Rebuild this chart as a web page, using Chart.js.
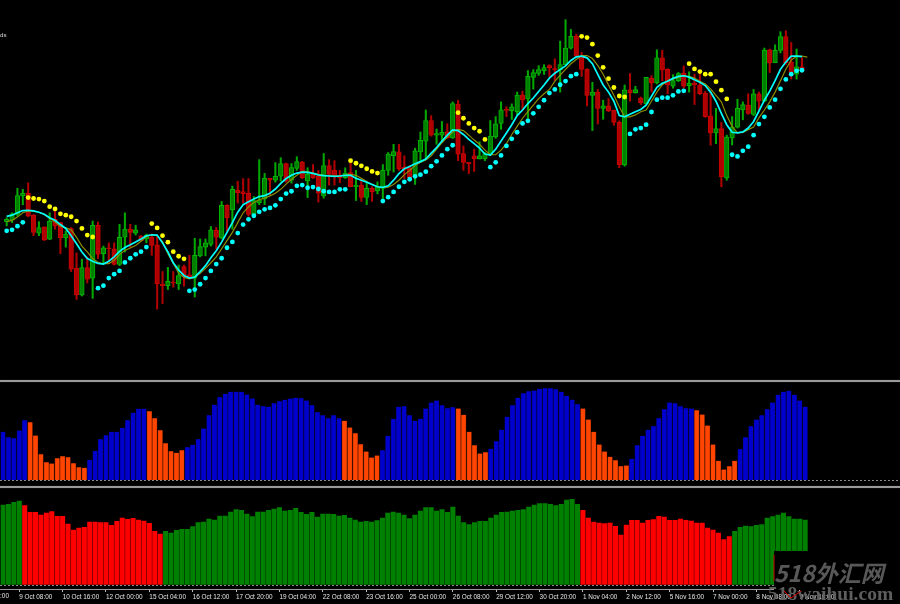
<!DOCTYPE html>
<html>
<head>
<meta charset="utf-8">
<title>Chart</title>
<script src="https://cdn.jsdelivr.net/npm/chart.js@4"></script>
<style>
    html, body { margin: 0; padding: 0; background: #000; overflow: hidden; }
    #wrap { position: relative; width: 900px; height: 604px; background: #000; overflow: hidden; }
    canvas { position: absolute; left: 0; }
    .sep { position: absolute; left: 0; width: 900px; height: 2px; background: #9a9a9a; box-shadow: 0 0 1px #666; }
</style>
</head>
<body>
<div id="wrap">
    <canvas id="mainChart" width="900" height="380" style="top:0"></canvas>
    <div class="sep" style="top:380px"></div>
    <canvas id="histChart" width="900" height="102" style="top:383px"></canvas>
    <div class="sep" style="top:485.5px"></div>
    <canvas id="trendChart" width="900" height="116" style="top:488px"></canvas>
</div>
<script>
// All values. Price units are arbitrary, the original axis is not visible.
const slotCount = 166;

const tickLabels = ['9 Oct 08:00', '10 Oct 16:00', '12 Oct 00:00', '15 Oct 04:00', '16 Oct 12:00',
    '17 Oct 20:00', '19 Oct 04:00', '22 Oct 08:00', '23 Oct 16:00', '25 Oct 00:00', '26 Oct 08:00',
    '29 Oct 12:00', '30 Oct 20:00', '1 Nov 04:00', '2 Nov 12:00', '5 Nov 16:00', '7 Nov 00:00',
    '8 Nov 08:00', '9 Nov 16:00'];

const candleOpen = [157.7,159.3,165,184,186.7,164,146,152.3,139.7,160,
    156.7,141,150.7,110,82.7,110.7,100,154,125,131,
    130,114,141.7,150,146,143.3,140,141.7,134,94,
    92.3,96,94,111.7,103.3,100,122.7,131.7,134.3,149,
    141,174.3,170,190,188.3,186.7,165,177,181,202,
    200,204,217,200,212,218.3,199.3,206.7,204,184,
    215,210,205,202.7,207.7,193.3,195,182.3,191.7,189,
    191.7,210,225,229,213.3,212.7,205,229,240,261,
    246,246,249.3,243.3,277.7,227.3,218.3,225,221.7,221.7,
    226,244.3,258,272.3,271,270,287,283,305,309,
    312,317,314,313,318,335,347.3,326.7,313.3,286.7,
    290,273.3,276,271.7,259,215.7,292.3,289.3,284,278.3,
    304,299.3,325,313.3,296,301.7,309.3,296.7,299,297.3,
    289,265.7,248.3,252.7,202.3,243.3,254.3,271.7,276.7,267.3,
    288.3,280.7,333.3,320,332.7,346.7,320.7,308.3,315.7];

const candleClose = [160,165.7,184.3,186.7,163.3,146.7,151.7,139,158.3,153.3,
    141,145,109,82.7,110.7,99,154,124.3,131,130,
    114,141.7,150,146.7,149.3,138.3,144,133.3,94,92.3,
    96.7,95,102.7,102.7,100,123.3,132.3,136,149.3,141.7,
    174.3,161.7,190.7,187.3,186,165,179.3,180,202,200,
    204,217,199,213,219,202.7,206,202.7,186.7,215,
    206,205,202.7,207.3,193.3,195,182.3,191.7,188.3,193.3,
    210,226.7,229.3,211.7,211,202.7,230,240.7,261,246,
    247.7,249,243.3,278.3,226.7,218.3,216.7,221.7,225,227.3,
    245,257.7,272,271.3,275,287,282,306,310,313,
    315,315,313,318,335,347,326.7,313.3,286.7,290,
    273.3,276,270.7,259,216,292.3,289.3,292.7,279,305,
    299.3,325,312.7,297.3,301.7,309,296,299,297.3,288.3,
    265,248.3,252.7,203.3,244,254.3,273.3,277.3,268.3,288.3,
    280.7,332.7,320,332.7,346.7,320,310,315.7,311.7];

const candleHigh = [161.7,166.7,191.7,190.7,197.3,165,157.7,152.3,166.7,168.3,
    156.7,148.3,151.7,125.7,119.3,121.7,158.3,157.3,132.7,136,
    136,155,166.7,155,154,143.3,145,145,143.3,106.7,
    111,106.7,113.3,113.3,123.3,140.7,140,140,152.7,151.7,
    178.3,175,194,199,201.7,201.7,183.3,221,207,202,
    218,223,217.5,217,224,219.3,212.7,216,210,227.3,
    221,220,210,212.7,218.3,210,201.7,196.7,193.3,198.3,
    216,228.3,236.7,236.7,225,215,232.7,249.3,271.7,266,
    252.3,260,257.7,280,281.7,235,218.3,231.7,239.3,228.3,
    261,265,280,275,278,290,291,312,313,317,
    318,318,324,342,364,354,349.3,330.7,314,300,
    292.7,281.7,283.3,271.7,260.7,297.3,309,296,285,305,
    306.7,333.3,332.7,314,307.7,310,316.7,310.7,308.3,308.3,
    290.7,290,273.3,259,246,265,282.7,280,288.3,292.7,
    290,335,334,338.3,351.7,352.7,340.7,334,325];

const candleLow = [153.3,156.7,163.3,175,162.7,143.3,143.3,138.3,139.3,150,
    125,131.7,106.7,78.3,81.7,95,79.3,120,115,115,
    113.3,112.7,126.7,131.7,144,138.3,136,123.3,68.3,74,
    88.3,90.7,88.3,91.7,100,80.7,121.7,122.7,132.7,130,
    140,146.7,150,176.7,176.7,163.3,161.7,175,175,185,
    198,199,198,197,210,201.7,182.3,201.7,177.7,181.7,
    195,195,197.3,201.7,193.3,179.3,178.3,175,178.3,186,
    180,205,208.3,210,201.7,201.7,195.7,218.3,221.7,245,
    236.7,240,242.7,242.7,220,210,206.7,209,221.7,220,
    225,242.7,252,265,262,267,272,263,293,307,
    308,306,302,290,318,334,326,306,276,250.7,
    257.3,262.3,270,256,212.7,214.3,280.7,289,277.3,277.7,
    290,298.3,301.7,288.3,294,300.7,294,290,277.3,287.3,
    264.3,235.7,237.3,193.3,200,236,253.3,261.7,267.3,266,
    271.7,280,310,320,330,318.3,303.3,303.3,310.7];

const fastLine = [163,164.3,166.7,169,169.3,168.7,167.3,165.3,161.7,159,
    154.7,150.7,143.3,135,126.7,120,117.3,115,114.3,117.3,
    121.7,127.3,131.3,134,137,140,143.3,144.3,144,136,
    126.7,115.7,108.3,102.7,100,101,106.7,112.7,120.7,128,
    136.7,146.7,156.7,167.3,175,178,180.7,183.3,184.3,186.7,
    191,196.7,201.7,205,207.3,208.3,208,207,205.3,204.7,
    204.3,204,204.3,205,205,202,200,198,195.7,193.3,
    192.7,194.3,200,206.7,211.7,214,216.7,219,221.7,227.7,
    233.3,240,246,251.3,250.7,246.7,241.7,237.3,232.7,226.7,
    225.7,231.7,240,248.3,256.7,266,271.7,278.3,284,290.7,
    297.3,304.3,309.3,313,316.7,322.3,326,326.7,325,319,
    308,297.3,290,280.7,266,264.7,267.3,270,272.3,276.7,
    285.7,295,299,301,304,306,306.7,305.3,302.7,300,
    296.7,290,280.7,268.3,256.7,249,248.3,249.3,253.3,260,
    270.7,281.7,291,301.7,313.3,320.7,326.7,326.7,326.3];

const slowLine = [157.7,159,162.3,166.7,168.7,168.3,167.3,165,161,157.3,
    152.7,151.3,149.3,141.7,132.7,126.7,120,116,114.7,114.7,
    118.3,124,128.3,130.7,133.3,137.7,142.3,144,143.3,137.3,
    125,115,105,100.7,99.3,101,105,110,115.7,121.7,
    130,138.3,146.7,156.7,166.7,172.7,177.3,180,181.7,184,
    186.7,190.7,196,200.7,205,209,208.7,207.3,206,205,
    204.7,204.3,204.7,205.3,206,205,202,198.7,195.7,193.3,
    192.3,193,195.7,200,205.7,210,215,218.3,220.7,225,
    231.7,238.3,244,249.3,252,250.7,246,241,236.7,230.7,
    226,226,230.7,237.3,246.7,255,263.3,270,276.7,283.3,
    288.3,292.7,301,307.3,313.3,319,323.3,327.3,327.3,324.3,
    317.3,308.3,297.3,286.7,275,264.7,264.7,266.7,270,271.7,
    280.7,290,297.3,301.7,303.3,305,306.7,306,304.3,301,
    298.3,293.3,286.7,280,266,255,248.3,248.7,251.7,254.3,
    264,271.7,280,290,301.7,313.3,322.7,326.7,326.7,325.7];

const sarBelow = [148.3,149.3,153,157,null,null,null,null,null,null,
    null,null,null,null,null,null,null,89.7,92.3,100,
    104,107.3,116,120.3,124.3,127,131.7,null,null,null,
    null,null,null,null,87,88.3,93.7,100,107.3,114.3,
    120.3,131,137,146,154.7,160,163.7,167.7,170.3,171.7,
    174.3,180.7,186.3,188.7,194.3,195,192.3,193,191,188.7,
    188,188,190.7,190.7,null,null,null,null,null,null,
    178.7,182.7,188,193.3,198.3,201,204,205.7,208.7,214.3,
    219.3,225.3,231.7,235.7,null,null,null,null,null,null,
    213.3,218.3,225.3,235,242.3,249,258,260.7,268.3,275,
    281.7,289,292.7,297.5,301.3,306.3,308.3,null,null,null,
    null,null,null,null,null,null,247.3,252,253.3,256.7,
    269.7,282.3,284.3,284.3,286.7,290.7,291.3,null,null,null,
    null,null,null,null,null,226,224.3,230,234.3,246,
    257.3,264.7,274.3,282.3,293.3,303,308.3,311.7,312.3];

const sarAbove = [null,null,null,null,182.3,181.3,180.7,178.7,173,170.7,
    165.7,164.3,162.7,158.3,150.7,144,142,null,null,null,
    null,null,null,null,null,null,null,155.7,151.3,143.3,
    136.7,127,122.3,119.7,null,null,null,null,null,null,
    null,null,null,null,null,null,null,null,null,null,
    null,null,null,null,null,null,null,null,null,null,
    null,null,null,null,220,217.3,214.7,211.7,209,207.3,
    null,null,null,null,null,null,null,null,null,null,
    null,null,null,null,269,263.3,258,253.3,250,241.7,
    null,null,null,null,null,null,null,null,null,null,
    null,null,null,null,null,null,null,347,345.7,339,
    327.3,315.3,303.7,294.7,286,285,null,null,null,null,
    null,null,null,null,null,null,null,319,313.7,311,
    308.3,308.3,300.7,292,283,null,null,null,null,null,
    null,null,null,null,null,null,null,null,null];

const histValues = [48.7,43.3,42.3,50,60.3,58.3,45,26.3,18.3,17,
    22.3,24.3,23.3,17.3,13.3,12.7,20.7,29.7,41.3,45.3,
    48.7,48.7,52.7,60.3,67.7,71.7,71.7,69.3,62.3,50.3,
    37.3,29.3,27.7,30.3,33.3,35.7,41.3,52,65.3,75.7,
    83.3,86.7,88.7,88.7,88.7,86,82,75.7,74.3,73.7,
    77.3,79.3,80.7,82,82.7,82.3,80,75.3,68.3,65.3,
    62.3,65.3,62.3,59.7,53,47.3,36.3,29,23,25,
    30.3,44.7,61.7,73.7,74.3,65.3,59.7,61.7,72,78,
    80,75.3,72.3,73.3,72,65.7,48.7,35.3,27,28.3,
    31.7,39.3,50.7,63.7,75.3,82.7,87.3,89.3,90,91.7,
    92.3,92.3,91.3,88.7,84.7,80.7,76.3,72,61,48.7,
    36,29,23.7,20.3,14.3,15,21.7,35.3,44.7,50.7,
    54.3,62.3,71.3,78,77.3,74.3,72.3,72,70.3,66,
    55,36,19.7,11,14.3,19.7,31.3,43.3,54.3,61,
    65.3,71.3,78,85.7,88.7,89.7,85.7,80,73.7];

const histOrangeRuns = [[5, 15], [27, 33], [63, 69], [84, 89], [107, 115], [128, 135]];

const trendValues = [80,80.7,82.7,84,79.3,72.7,72.7,70,72,73.3,
    68.7,68.7,61,55,57,57.7,63,63,62.3,62.3,
    59.7,63.7,67,65.7,66.7,65,64,61.7,53.7,51,
    53.7,52,54.7,55.7,55.7,58.3,62.3,63,66,65,
    69,69,73,75.3,74.7,71,68.3,73,73,74.7,
    76,77.3,74,74.7,76.7,72.7,70.7,72.7,68,71,
    71,70.7,69,69.7,67,65,63,63.7,63,64.3,
    67,72,73,72,70,66.3,70,74,77.3,77.3,
    74,75.3,72.7,78,69,62.3,60.3,62.3,63.7,63.7,
    67,70,72.7,73,74,74.7,75.3,78,80,81.3,
    81.3,80.7,79.3,80.7,85,85.7,80.7,74.7,67,63,
    62,61.3,62,58.7,50,60,64.7,64.7,62,64.7,
    65.3,68.7,68,64.7,64.7,66,64.7,64,62,62,
    57,55,52,45.3,48.3,53.7,57.7,59,58.3,59.7,
    60.3,67,68.3,70,72,68.3,66,66,65];

const trendRedRuns = [[4, 29], [107, 134]];

// the first tick label sits left of the window and only its end shows
const clippedTickLabel = '8 Oct 00:00';
const firstTickSlot = 3;
const tickEvery = 8;

Chart.defaults.animation = false;
Chart.defaults.responsive = false;
Chart.defaults.plugins.legend.display = false;
Chart.defaults.plugins.tooltip.enabled = false;

const slotLabels = Array.from({ length: slotCount }, (_, i) => {
    const k = (i - firstTickSlot) / tickEvery;
    return Number.isInteger(k) && tickLabels[k] ? tickLabels[k] : '';
});

const inRuns = (runs, i) => runs.some(r => i >= r[0] && i <= r[1]);

const isBull = i => candleClose[i] >= candleOpen[i];

// main price window: wicks and bodies are floating bars, the rest line datasets
new Chart(document.getElementById('mainChart'), {
    type: 'bar',
    data: {
        labels: slotLabels,
        datasets: [
            {
                type: 'line', label: 'fast', data: fastLine, borderColor: '#00ffff', borderWidth: 1.7,
                pointRadius: 0, tension: 0, order: 2
            },
            {
                type: 'line', label: 'slow', data: slowLine, borderColor: '#8c8c00', borderWidth: 1.2,
                pointRadius: 0, tension: 0, order: 3
            },
            {
                type: 'line', label: 'sar below', data: sarBelow, showLine: false, pointRadius: 2.4,
                pointBackgroundColor: '#00ffff', pointBorderWidth: 0, order: 1
            },
            {
                type: 'line', label: 'sar above', data: sarAbove, showLine: false, pointRadius: 2.4,
                pointBackgroundColor: '#ffff00', pointBorderWidth: 0, order: 1
            },
            {
                label: 'body', data: candleOpen.map((o, i) => [o, candleClose[i]]),
                backgroundColor: candleOpen.map((o, i) => isBull(i) ? '#008000' : '#b00000'),
                borderColor: candleOpen.map((o, i) => isBull(i) ? '#00b400' : '#c80000'),
                borderWidth: 1, borderSkipped: false, barThickness: 4.6, grouped: false, order: 4
            },
            {
                label: 'wick', data: candleLow.map((l, i) => [l, candleHigh[i]]),
                backgroundColor: candleLow.map((l, i) => isBull(i) ? '#00a800' : '#b00000'),
                borderWidth: 0, barThickness: 1.4, grouped: false, order: 5
            }
        ]
    },
    options: {
        layout: { padding: { left: 0.3 } },
        scales: {
            x: { display: false, offset: true },
            y: { display: false, min: 0, max: 380 }
        }
    },
    plugins: [{
        id: 'cornerText',
        afterDraw(chart) {
            const ctx = chart.ctx;
            ctx.save();
            ctx.fillStyle = '#ddd';
            ctx.font = '6.2px "Liberation Sans"';
            ctx.fillText('ds', 0, 37);
            ctx.restore();
        }
    }]
});

const baselineAxis = (min, max) => ({
    min: min,
    max: max,
    afterBuildTicks: scale => { scale.ticks = [{ value: 0 }]; },
    afterFit: scale => { scale.width = 0; },
    ticks: { display: false },
    border: { display: false, dash: [2, 2] },
    grid: { color: '#8a8a8a', drawTicks: false }
});

new Chart(document.getElementById('histChart'), {
    type: 'bar',
    data: {
        labels: slotLabels,
        datasets: [{
            data: histValues,
            backgroundColor: histValues.map((v, i) => inRuns(histOrangeRuns, i) ? '#ff4500' : '#0000cd'),
            borderColor: histValues.map((v, i) => inRuns(histOrangeRuns, i) ? '#b83200' : '#000096'),
            borderWidth: { left: 0.6, right: 0.6 },
            borderSkipped: false,
            barThickness: 4.6
        }]
    },
    options: {
        layout: { padding: { left: 0.3 } },
        scales: {
            x: { display: false, offset: true },
            y: baselineAxis(-4.5, 97.5)
        }
    }
});

new Chart(document.getElementById('trendChart'), {
    type: 'bar',
    data: {
        labels: slotLabels,
        datasets: [{
            data: trendValues,
            backgroundColor: trendValues.map((v, i) => inRuns(trendRedRuns, i) ? '#ff0000' : '#008000'),
            borderWidth: 0,
            barThickness: 4.4
        }]
    },
    options: {
        layout: { padding: { left: 0.3 } },
        scales: {
            x: {
                offset: true,
                afterFit: scale => { scale.height = 15; },
                border: { color: '#9a9a9a' },
                grid: {
                    offset: false, drawOnChartArea: false, tickLength: 3, tickColor: '#bbb', tickWidth: 1
                },
                ticks: {
                    autoSkip: false, maxRotation: 0, minRotation: 0, align: 'start', padding: 1,
                    color: '#e6e6e6', font: { family: 'Liberation Sans', size: 6.4 },
                    callback: (value, index) => slotLabels[index] || null
                }
            },
            y: baselineAxis(-4, 97)
        }
    },
    plugins: [{
        id: 'watermark',
        afterDraw(chart) {
            const ctx = chart.ctx;
            const x = chart.scales.x;
            const top = 488;
            ctx.save();

            ctx.fillStyle = '#e6e6e6';
            ctx.font = '6.4px "Liberation Sans"';
            ctx.textBaseline = 'middle';
            ctx.fillText(clippedTickLabel, x.getPixelForValue(firstTickSlot - tickEvery), 596 - top);

            // pasted-over block of the site stamp
            ctx.fillStyle = '#000';
            ctx.fillRect(774, 551 - top, 126, 39);
            ctx.fillStyle = '#c80000';
            ctx.fillRect(773.5, 555 - top, 1, 26);

            ctx.textBaseline = 'alphabetic';
            ctx.fillStyle = '#585858';
            ctx.font = 'italic bold 23px "Noto Sans CJK SC"';
            ctx.fillText('518外汇网', 774, 582 - top);
            ctx.fillStyle = '#5e5e5e';
            ctx.font = 'bold 19.5px "Liberation Serif"';
            ctx.fillText('518waihui.com', 768, 600 - top);

            ctx.strokeStyle = '#e00000';
            ctx.lineWidth = 1;
            ctx.beginPath();
            ctx.moveTo(784, 591 - top);
            ctx.lineTo(791, 598 - top);
            ctx.lineTo(801, 591 - top);
            ctx.stroke();
            ctx.restore();
        }
    }]
});
</script>
</body>
</html>
